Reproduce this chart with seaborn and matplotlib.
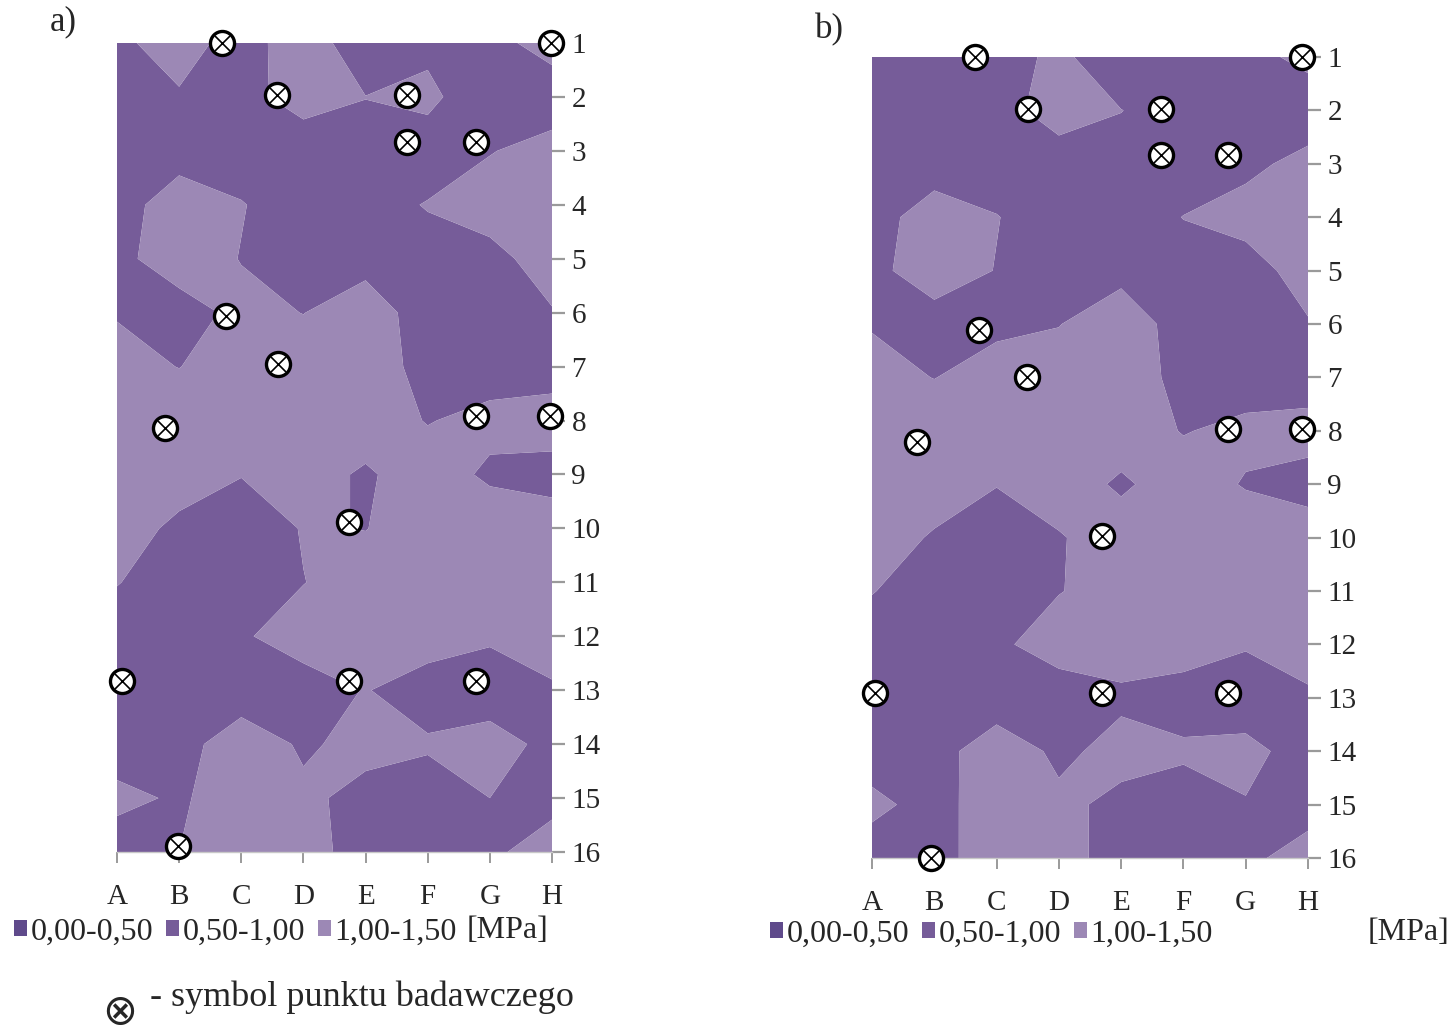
import numpy as np
import pandas as pd
import matplotlib
matplotlib.use("Agg")
import matplotlib.pyplot as plt
from matplotlib.patches import Patch
import seaborn as sns

# ---------------- data ----------------
columns = list("ABCDEFGH")
rows = list(range(1, 17))
levels = [0.0, 0.5, 1.0, 1.5]
level_labels = ["0,00-0,50", "0,50-1,00", "1,00-1,50"]
unit_label = "[MPa]"
panel_labels = ["a)", "b)"]
note_symbol = "\u2297"
note_text = "- symbol punktu badawczego"

# values [MPa] at grid nodes, rows 1..16, columns A..H
values_a = [
    [0.86, 1.30, 0.70, 1.40, 0.55, 0.85, 0.80, 1.25],
    [0.75, 0.93, 0.80, 1.25, 1.01, 1.15, 0.55, 0.64],
    [0.70, 0.75, 0.70, 0.65, 0.80, 0.70, 0.97, 1.23],
    [0.75, 1.30, 1.03, 0.70, 0.80, 1.03, 1.30, 1.35],
    [0.85, 1.30, 0.98, 0.70, 0.80, 0.80, 0.80, 1.30],
    [0.97, 0.75, 1.15, 0.99, 1.30, 0.72, 0.75, 0.96],
    [1.15, 0.99, 1.25, 1.30, 1.20, 0.87, 0.80, 0.80],
    [1.20, 1.30, 1.30, 1.30, 1.20, 0.98, 1.12, 1.20],
    [1.20, 1.15, 1.02, 1.15, 0.95, 1.20, 0.93, 0.85],
    [1.15, 0.93, 0.70, 1.03, 0.99, 1.20, 1.25, 1.20],
    [1.02, 0.75, 0.70, 0.99, 1.20, 1.30, 1.30, 1.30],
    [0.75, 0.70, 0.95, 1.20, 1.25, 1.20, 1.05, 1.20],
    [0.75, 0.70, 0.70, 0.80, 1.02, 0.80, 0.80, 0.95],
    [0.80, 0.80, 1.30, 0.93, 1.15, 1.05, 1.15, 0.90],
    [1.10, 0.95, 1.20, 1.10, 0.85, 0.80, 1.00, 0.80],
    [0.80, 1.00, 1.20, 1.20, 0.78, 0.75, 0.88, 1.30],
]

values_b = [
    [0.75, 0.80, 0.75, 1.13, 0.60, 0.95, 0.80, 1.16],
    [0.70, 0.75, 0.80, 1.23, 1.01, 0.75, 0.65, 0.63],
    [0.70, 0.70, 0.70, 0.74, 0.80, 0.75, 0.85, 1.19],
    [0.75, 1.30, 1.02, 0.70, 0.75, 1.01, 1.25, 1.35],
    [0.85, 1.30, 0.98, 0.70, 0.80, 0.80, 0.70, 1.30],
    [0.97, 0.75, 0.90, 0.98, 1.40, 0.70, 0.75, 0.95],
    [1.15, 0.99, 1.20, 1.30, 1.20, 0.89, 0.80, 0.80],
    [1.20, 1.30, 1.30, 1.30, 1.20, 0.98, 1.10, 1.15],
    [1.20, 1.15, 1.02, 1.20, 0.94, 1.20, 0.97, 0.85],
    [1.15, 0.97, 0.70, 0.97, 1.20, 1.25, 1.25, 1.20],
    [1.02, 0.75, 0.70, 0.98, 1.20, 1.30, 1.30, 1.30],
    [0.75, 0.70, 0.90, 1.25, 1.20, 1.15, 1.03, 1.15],
    [0.75, 0.70, 0.70, 0.70, 0.92, 0.86, 0.80, 0.95],
    [0.80, 0.80, 1.30, 0.90, 1.15, 1.05, 1.10, 0.85],
    [1.10, 0.85, 1.23, 1.10, 0.89, 0.85, 0.98, 0.72],
    [0.80, 0.87, 1.20, 1.20, 0.78, 0.75, 0.85, 1.29],
]

# research points (column position 0=A..7=H, row position 1..16)
points_a_col = [1.69, 6.99, 2.58, 4.67, 4.67, 5.78, 1.76, 2.59, 0.77, 5.78, 6.96, 3.74, 0.08, 3.74, 5.78, 0.98]
points_a_row = [1.00, 1.00, 1.96, 1.96, 2.84, 2.84, 6.06, 6.95, 8.14, 7.92, 7.92, 9.88, 12.83, 12.83, 12.83, 15.89]
points_b_col = [1.65, 6.90, 2.50, 4.64, 4.64, 5.71, 1.72, 2.49, 0.72, 5.71, 6.90, 3.69, 0.05, 3.69, 5.71, 0.95]
points_b_row = [1.00, 1.00, 1.97, 1.97, 2.84, 2.84, 6.11, 6.99, 8.21, 7.97, 7.97, 9.97, 12.91, 12.91, 12.91, 16.00]

# ---------------- style ----------------
sns.set_style("white")
plt.rcParams["font.family"] = ["Liberation Serif", "DejaVu Sans"]

band_colors = ["#5f4a8b", "#765c99", "#9c88b5"]
tick_grey = "#9a9a9a"

W, H = 1454, 1031
fig = plt.figure(figsize=(W / 100, H / 100), dpi=100)


def px_axes(x0, x1, y0, y1):
    return fig.add_axes([x0 / W, 1 - y1 / H, (x1 - x0) / W, (y1 - y0) / H])


panels = [
    dict(vals=values_a, pc=points_a_col, pr=points_a_row, box=(117, 552, 43, 852)),
    dict(vals=values_b, pc=points_b_col, pr=points_b_row, box=(872, 1308, 57, 858)),
]

for p in panels:
    ax = px_axes(*p["box"])
    Z = np.array(p["vals"])
    X, Y = np.meshgrid(np.arange(len(columns)), np.array(rows))
    ax.contourf(X, Y, Z, levels=levels, colors=band_colors, antialiased=True)

    pts = pd.DataFrame({"col": p["pc"], "row": p["pr"]})
    sns.scatterplot(data=pts, x="col", y="row", ax=ax, marker="o", s=300,
                    facecolor="white", edgecolor="black", linewidth=2.4,
                    clip_on=False, zorder=5, legend=False)
    sns.scatterplot(data=pts, x="col", y="row", ax=ax, marker="x", s=120,
                    color="black", linewidth=1.2, clip_on=False, zorder=6,
                    legend=False)

    ax.set_xlim(0, len(columns) - 1)
    ax.set_ylim(rows[-1], rows[0])
    ax.set_xticks(range(len(columns)))
    ax.set_xticklabels(columns)
    ax.set_yticks(rows)
    ax.set_yticklabels([str(r) for r in rows])
    ax.yaxis.tick_right()
    ax.set_xlabel("")
    ax.set_ylabel("")
    ax.tick_params(axis="x", bottom=True, direction="out", length=8, width=1.4,
                   color=tick_grey, pad=15, labelsize=21)
    ax.tick_params(axis="y", right=True, left=False, direction="out", length=9,
                   width=1.6, color=tick_grey, pad=5, labelsize=21)
    for side in ["top", "left", "right"]:
        ax.spines[side].set_visible(False)
    ax.spines["bottom"].set_color("#c8c8c8")
    ax.spines["bottom"].set_linewidth(1.0)

# panel labels
fig.text(63 / W, 1 - 22 / H, panel_labels[0], ha="center", va="center", fontsize=25)
fig.text(829 / W, 1 - 30 / H, panel_labels[1], ha="center", va="center", fontsize=25)

# legends
handles = [Patch(facecolor=c, edgecolor="none") for c in band_colors]
for lx, ly, ux, uy in [(14, 932, 508, 930), (770, 934, 1408, 932)]:
    fig.legend(handles, level_labels, ncol=3, loc="center left",
               bbox_to_anchor=(lx / W, 1 - ly / H), frameon=False,
               fontsize=23, handlelength=0.4, handleheight=0.4,
               handletextpad=0.12, columnspacing=0.4, borderpad=0,
               borderaxespad=0)
    fig.text(ux / W, 1 - uy / H, unit_label, ha="center", va="center", fontsize=23)

# note
fig.text(120 / W, 1 - 1012 / H, note_symbol, ha="center", va="center", fontsize=30,
         family=["DejaVu Sans"])
fig.text(150 / W, 1 - 997 / H, note_text, ha="left", va="center", fontsize=26)

fig.savefig("out.png", dpi=100)
